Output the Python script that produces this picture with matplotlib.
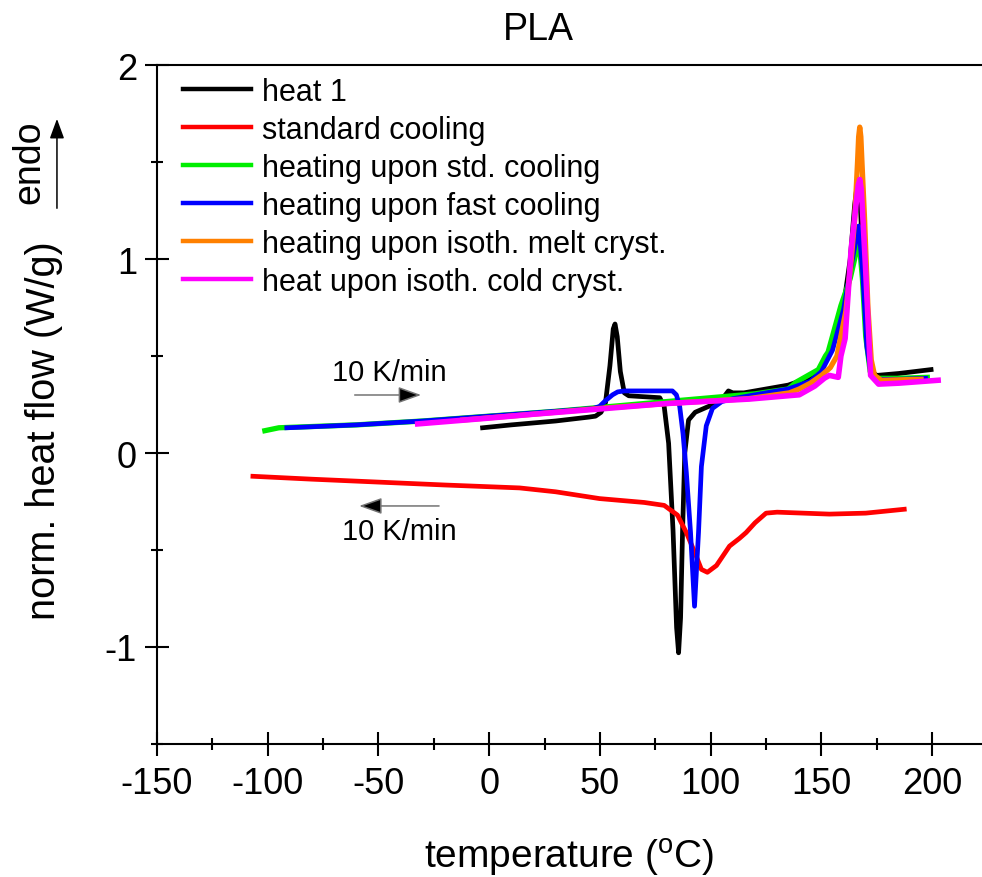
import matplotlib
matplotlib.use("Agg")
import matplotlib.pyplot as plt
from matplotlib.patches import FancyArrowPatch
from matplotlib.ticker import MultipleLocator

plt.rcParams['font.family'] = ['Liberation Sans', 'DejaVu Sans']
plt.rcParams['mathtext.fontset'] = 'custom'
plt.rcParams['mathtext.rm'] = 'Liberation Sans'
plt.rcParams['axes.unicode_minus'] = False

# DSC traces of PLA, temperature (C) vs normalised heat flow (W/g)
heat1_t = [-3, 10, 30, 45, 48, 50.5, 52.5, 54.5, 56.0, 56.8, 57.8, 59.2, 61, 63, 70, 77,
           79, 81, 83, 84.6, 85.5, 86.4, 87.3, 88.3, 90, 93, 97, 103, 106, 108, 110, 115,
           125, 135, 145, 150, 155, 160, 163, 165, 166.2, 167.5, 169, 171, 172.5, 175, 185, 199.5]
heat1_q = [0.13, 0.145, 0.165, 0.185, 0.19, 0.21, 0.26, 0.45, 0.64, 0.665, 0.60, 0.42, 0.31, 0.295, 0.29, 0.285,
           0.24, 0.05, -0.40, -0.90, -1.03, -0.85, -0.40, 0.0, 0.17, 0.21, 0.23, 0.26, 0.29, 0.32, 0.31, 0.31,
           0.33, 0.35, 0.39, 0.44, 0.56, 0.76, 1.0, 1.28, 1.39, 1.30, 0.90, 0.55, 0.42, 0.40, 0.41, 0.43]

cool_t = [-106.7, -80, -50, -20, 13.7, 30, 49.8, 70, 79, 85, 89, 92.7, 95.8, 98.5, 102.6, 108.5,
          113, 116, 120, 125, 130, 153.6, 170, 187.4]
cool_q = [-0.12, -0.135, -0.15, -0.165, -0.18, -0.20, -0.235, -0.255, -0.27, -0.32, -0.41, -0.51, -0.60, -0.615, -0.58, -0.48,
          -0.44, -0.41, -0.36, -0.31, -0.305, -0.315, -0.31, -0.29]

std_t = [-101.3, -95, -60, -30, 0, 30, 50, 80, 100, 120, 135, 138.7, 148.6, 151.8, 153, 158.8,
         163, 165, 166.8, 168.5, 170, 172, 174, 185, 197.8]
std_q = [0.115, 0.13, 0.145, 0.165, 0.19, 0.215, 0.235, 0.265, 0.285, 0.305, 0.33, 0.366, 0.43, 0.50, 0.52, 0.76,
         0.90, 1.0, 1.12, 0.90, 0.60, 0.42, 0.385, 0.385, 0.39]

fast_t = [-91.4, -60, -30, 0, 30, 47, 49.8, 52.5, 55.7, 58, 61, 70, 82.7, 84.5, 86, 87.5, 89,
          90.9, 92.7, 94.5, 95.8, 98, 100.8, 105, 110, 120, 135, 145, 150, 155, 160, 164, 166.8,
          168.5, 170.5, 172.5, 175, 185, 197]
fast_q = [0.13, 0.145, 0.165, 0.19, 0.215, 0.23, 0.24, 0.27, 0.30, 0.315, 0.32, 0.32, 0.32, 0.30, 0.24, 0.10, -0.10,
          -0.41, -0.79, -0.41, -0.07, 0.14, 0.23, 0.265, 0.28, 0.30, 0.33, 0.37, 0.42, 0.53, 0.74, 1.0, 1.17,
          0.95, 0.55, 0.40, 0.38, 0.38, 0.385]

melt_t = [-12, 20, 50, 80, 117, 135.5, 140, 145, 150, 154, 157, 161, 163.5, 165, 166.3, 166.8,
          167.3, 167.8, 168.3, 169.5, 171, 172.5, 174, 177, 195]
melt_q = [0.17, 0.20, 0.23, 0.255, 0.28, 0.31, 0.33, 0.36, 0.40, 0.44, 0.50, 0.73, 1.0, 1.2, 1.5, 1.63,
          1.68, 1.63, 1.5, 1.2, 0.75, 0.48, 0.40, 0.375, 0.38]

cold_t = [-32.3, 0, 20, 50, 80, 117.5, 140, 147, 151.4, 153.6, 157.6, 158.8, 160.7, 163.4, 166.6,
          167.3, 168.0, 169.9, 172.2, 175.8, 185, 202.7]
cold_q = [0.15, 0.18, 0.20, 0.227, 0.255, 0.278, 0.30, 0.345, 0.386, 0.40, 0.39, 0.50, 0.59, 1.05, 1.38,
          1.41, 1.36, 0.96, 0.40, 0.355, 0.36, 0.375]

fig = plt.figure(figsize=(9.82, 8.78), dpi=100)
ax = fig.add_axes([0.1599, 0.1515, 0.8401, 0.7733])

ax.plot(heat1_t, heat1_q, color='black', lw=3.4, label='heat 1')
ax.plot(cool_t, cool_q, color='#ff0000', lw=3.4, label='standard cooling')
ax.plot(std_t, std_q, color='#00ee00', lw=3.8, label='heating upon std. cooling')
ax.plot(fast_t, fast_q, color='#0000ff', lw=3.4, label='heating upon fast cooling')
ax.plot(melt_t, melt_q, color='#ff8000', lw=3.8, label='heating upon isoth. melt cryst.')
ax.plot(cold_t, cold_q, color='#ff00ff', lw=4.0, label='heat upon isoth. cold cryst.')

ax.set_xlim(-150, 222.5)
ax.set_ylim(-1.5, 2)
ax.xaxis.set_major_locator(MultipleLocator(50))
ax.xaxis.set_minor_locator(MultipleLocator(25))
ax.yaxis.set_major_locator(MultipleLocator(1))
ax.yaxis.set_minor_locator(MultipleLocator(0.5))
ax.tick_params(which='both', direction='inout', width=1.5, labelsize=26, top=False, right=False)
ax.tick_params(axis='x', which='major', length=17, pad=7)
ax.tick_params(axis='y', which='major', length=17, pad=6)
ax.tick_params(which='minor', length=9)
for side in ['left', 'bottom', 'top']:
    ax.spines[side].set_linewidth(1.5)
ax.spines['right'].set_visible(False)

leg = ax.legend(loc='upper left', bbox_to_anchor=(0.031, 0.983), frameon=False,
                fontsize=22, handlelength=2.25, handletextpad=0.35, labelspacing=0.265,
                borderaxespad=0, borderpad=0)
for h in leg.get_lines():
    h.set_linewidth(3.2)

# heating / cooling rate annotations
ax.add_patch(FancyArrowPatch((-62, 0.299), (-29.5, 0.299), arrowstyle='-|>,head_length=0.7,head_width=0.25',
                             mutation_scale=20, lw=1.1, ec='0.45', fc='black'))
ax.text(-44.9, 0.42, '10 K/min', fontsize=21, ha='center', va='center')
ax.add_patch(FancyArrowPatch((-21.4, -0.273), (-60, -0.273), arrowstyle='-|>,head_length=0.7,head_width=0.25',
                             mutation_scale=20, lw=1.1, ec='0.45', fc='black'))
ax.text(-40.4, -0.40, '10 K/min', fontsize=21, ha='center', va='center')

fig.text(0.548, 0.966, 'PLA', fontsize=27, ha='center', va='center')
fig.text(0.58, 0.023, r'temperature ($^{\rm o}$C)', fontsize=28, ha='center', va='center')
fig.text(0.045, 0.510, 'norm. heat flow (W/g)', fontsize=28.5, rotation=90, ha='center', va='center')
fig.text(0.030, 0.815, 'endo', fontsize=27, rotation=90, ha='center', va='center')
fig.add_artist(FancyArrowPatch((0.058, 0.7585), (0.058, 0.8667), transform=fig.transFigure,
                               arrowstyle='-|>,head_length=0.6,head_width=0.22', mutation_scale=20,
                               lw=1.1, color='black'))

fig.savefig('out.png', dpi=100)
